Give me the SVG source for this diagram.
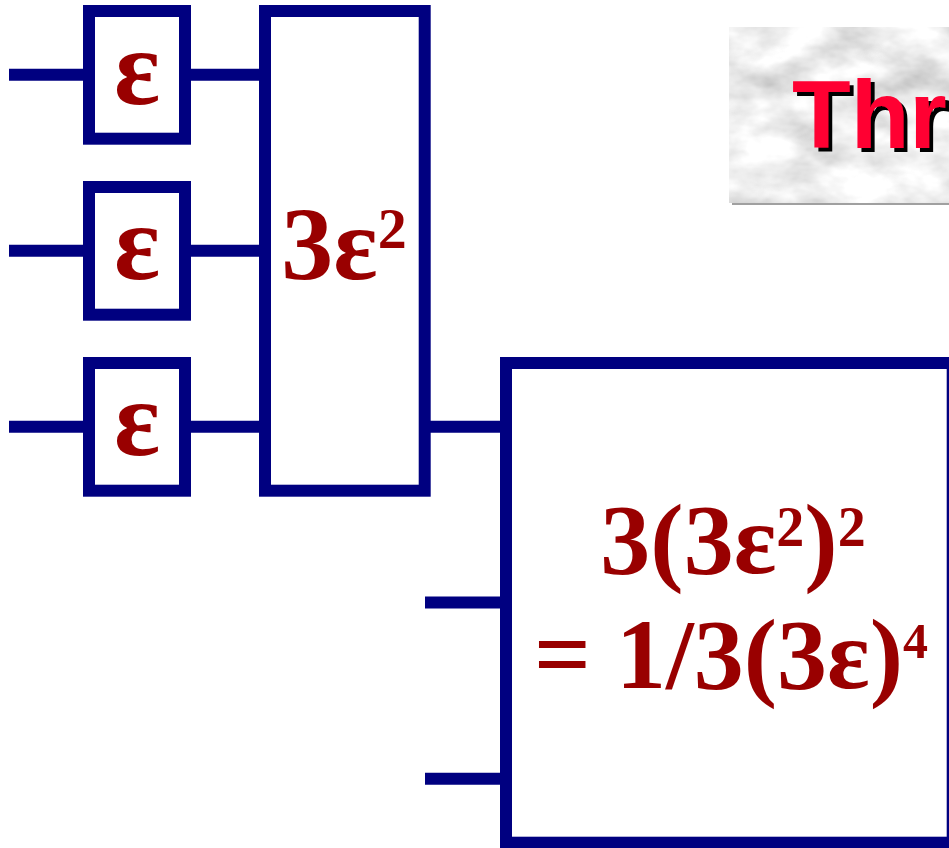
<svg xmlns="http://www.w3.org/2000/svg" width="949" height="848" viewBox="0 0 949 848">
<defs>
<style>
.box{fill:#ffffff;stroke:#000080;stroke-width:12}
.wire{stroke:#000080;stroke-width:12;fill:none}
.lbl{font-family:"Liberation Serif","Times New Roman",serif;font-weight:bold;fill:#990000;text-anchor:middle}
.ttl{font-family:"Liberation Sans",Arial,sans-serif;font-weight:bold;font-size:96px}
</style>
<filter id="marble" x="0" y="0" width="1" height="1" filterUnits="objectBoundingBox">
<feTurbulence type="fractalNoise" baseFrequency="0.018 0.03" numOctaves="4" seed="7" result="n"/>
<feColorMatrix in="n" type="matrix" values="0.8 0 0 0 0.45  0.8 0 0 0 0.45  0.8 0 0 0 0.45  0 0 0 0 1" result="g"/>
<feComposite in="g" in2="SourceAlpha" operator="in"/>
</filter>
<filter id="shadow" x="-10%" y="-10%" width="130%" height="130%">
<feOffset in="SourceAlpha" dx="4" dy="4" result="o"/>
<feFlood flood-color="#000000"/>
<feComposite in2="o" operator="in" result="s"/>
<feMerge><feMergeNode in="s"/><feMergeNode in="SourceGraphic"/></feMerge>
</filter>
</defs>
<rect width="949" height="848" fill="#ffffff"/>

<g id="title">
<rect x="732" y="30" width="230" height="175" fill="#a0a0a0"/>
<rect x="729" y="27" width="230" height="176" fill="#dddddd" filter="url(#marble)"/>
<text class="ttl" x="792" y="148" fill="#ff0033" filter="url(#shadow)">Thr</text>
</g>

<g id="connectors">
<line class="wire" x1="9" y1="74.7" x2="89" y2="74.7"/>
<line class="wire" x1="9" y1="250.7" x2="89" y2="250.7"/>
<line class="wire" x1="9" y1="426.7" x2="89" y2="426.7"/>
<line class="wire" x1="185" y1="74.7" x2="265" y2="74.7"/>
<line class="wire" x1="185" y1="250.7" x2="265" y2="250.7"/>
<line class="wire" x1="185" y1="426.7" x2="265" y2="426.7"/>
<line class="wire" x1="425" y1="426.7" x2="506" y2="426.7"/>
<line class="wire" x1="425" y1="602.5" x2="506" y2="602.5"/>
<line class="wire" x1="425" y1="778.8" x2="506" y2="778.8"/>
</g>

<g id="eps1">
<rect class="box" x="89" y="11" width="96" height="127.7"/>
<text class="lbl" x="137" y="104" font-size="108">ε</text>
</g>
<g id="eps2">
<rect class="box" x="89" y="187" width="96" height="127.7"/>
<text class="lbl" x="137" y="279" font-size="108">ε</text>
</g>
<g id="eps3">
<rect class="box" x="89" y="363" width="96" height="127.7"/>
<text class="lbl" x="137" y="455" font-size="108">ε</text>
</g>

<g id="stage2">
<rect class="box" x="265" y="11" width="159.7" height="479.7"/>
<text class="lbl" x="344" y="279" font-size="104">3ε<tspan font-size="58" dy="-31">2</tspan></text>
</g>

<g id="stage3">
<rect class="box" x="506" y="363" width="446.7" height="479.7"/>
<text class="lbl" x="733" y="573" font-size="100">3(3ε<tspan font-size="56" dy="-27">2</tspan><tspan dy="27">)</tspan><tspan font-size="56" dy="-27">2</tspan></text>
<text class="lbl" x="731" y="688" font-size="100">= 1/3(3ε)<tspan font-size="50" dy="-30">4</tspan></text>
</g>
</svg>
